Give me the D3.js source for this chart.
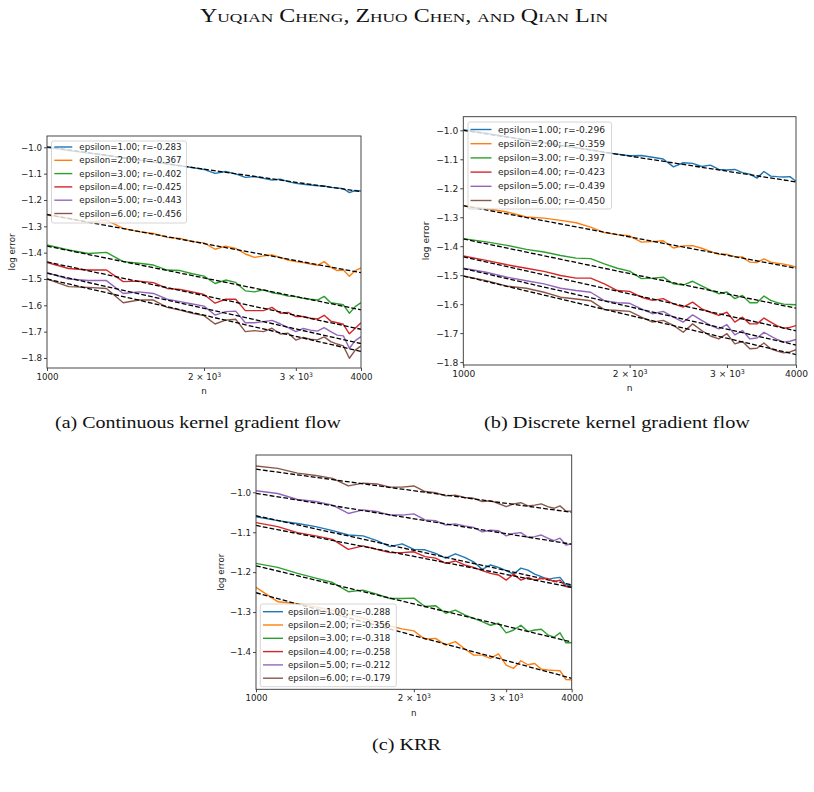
<!DOCTYPE html>
<html>
<head>
<meta charset="utf-8">
<script src="https://cdn.jsdelivr.net/npm/d3@7"></script>
<style>
  html, body { margin: 0; padding: 0; background: #fff; }
  svg { display: block; }
</style>
</head>
<body>
<svg id="fig" width="814" height="792"></svg>
<script>
// ---------------- DATA ----------------
const nValues = [1000,1100,1200,1300,1400,1500,1600,1700,1800,1900,2000,2100,2200,2300,2400,2500,2600,2700,2800,2900,3000,3100,3200,3300,3400,3500,3600,3700,3800,3900,4000];

const epsilonLabels = ["1.00","2.00","3.00","4.00","5.00","6.00"];
const seriesColors = ["#1f77b4","#ff7f0e","#2ca02c","#d62728","#9467bd","#8c564b"];

// (a) Continuous kernel gradient flow
const rA = ["-0.283","-0.367","-0.402","-0.425","-0.443","-0.456"];
const a1 = [-1.000,-1.012,-1.022,-1.030,-1.040,-1.048,-1.056,-1.062,-1.070,-1.077,-1.084,-1.099,-1.092,-1.101,-1.114,-1.111,-1.118,-1.124,-1.121,-1.130,-1.137,-1.140,-1.143,-1.146,-1.147,-1.152,-1.154,-1.157,-1.172,-1.164,-1.166];
const a2 = [-1.257,-1.270,-1.285,-1.276,-1.308,-1.320,-1.327,-1.342,-1.346,-1.358,-1.363,-1.387,-1.375,-1.384,-1.405,-1.418,-1.412,-1.409,-1.418,-1.428,-1.434,-1.438,-1.443,-1.448,-1.434,-1.455,-1.468,-1.466,-1.490,-1.468,-1.458];
const a3 = [-1.371,-1.390,-1.403,-1.399,-1.434,-1.440,-1.447,-1.466,-1.468,-1.480,-1.489,-1.517,-1.504,-1.513,-1.545,-1.549,-1.541,-1.552,-1.557,-1.565,-1.567,-1.573,-1.577,-1.580,-1.566,-1.590,-1.594,-1.598,-1.630,-1.605,-1.590];
const a4 = [-1.437,-1.460,-1.466,-1.466,-1.510,-1.508,-1.514,-1.536,-1.540,-1.549,-1.559,-1.592,-1.577,-1.577,-1.620,-1.620,-1.620,-1.608,-1.630,-1.627,-1.643,-1.642,-1.649,-1.652,-1.638,-1.660,-1.666,-1.672,-1.708,-1.687,-1.666];
const a5 = [-1.476,-1.500,-1.506,-1.506,-1.555,-1.549,-1.555,-1.577,-1.586,-1.595,-1.603,-1.637,-1.624,-1.622,-1.666,-1.666,-1.662,-1.657,-1.670,-1.685,-1.700,-1.688,-1.694,-1.698,-1.685,-1.700,-1.713,-1.716,-1.763,-1.734,-1.719];
const a6 = [-1.500,-1.529,-1.532,-1.536,-1.590,-1.580,-1.580,-1.608,-1.618,-1.630,-1.639,-1.671,-1.656,-1.653,-1.700,-1.696,-1.700,-1.687,-1.709,-1.706,-1.732,-1.722,-1.729,-1.731,-1.720,-1.738,-1.747,-1.754,-1.801,-1.770,-1.754];
const fitStartA = [-0.998,-1.255,-1.375,-1.435,-1.478,-1.500];
const fitEndA   = [-1.168,-1.476,-1.617,-1.691,-1.745,-1.775];

// (b) Discrete kernel gradient flow
const rB = ["-0.296","-0.359","-0.397","-0.423","-0.439","-0.450"];
const b1 = [-0.998,-1.010,-1.022,-1.034,-1.043,-1.052,-1.060,-1.067,-1.076,-1.082,-1.088,-1.087,-1.093,-1.099,-1.126,-1.112,-1.114,-1.125,-1.120,-1.135,-1.137,-1.135,-1.146,-1.151,-1.165,-1.142,-1.158,-1.160,-1.161,-1.160,-1.176];
const b2 = [-1.261,-1.270,-1.282,-1.299,-1.303,-1.311,-1.319,-1.334,-1.353,-1.360,-1.364,-1.386,-1.384,-1.381,-1.406,-1.399,-1.398,-1.407,-1.418,-1.428,-1.428,-1.436,-1.437,-1.455,-1.456,-1.444,-1.455,-1.459,-1.462,-1.466,-1.472];
const b3 = [-1.374,-1.385,-1.397,-1.411,-1.420,-1.432,-1.441,-1.443,-1.461,-1.476,-1.486,-1.512,-1.510,-1.507,-1.530,-1.534,-1.521,-1.537,-1.552,-1.564,-1.558,-1.581,-1.570,-1.595,-1.595,-1.572,-1.587,-1.595,-1.600,-1.601,-1.602];
const b4 = [-1.434,-1.449,-1.464,-1.476,-1.487,-1.501,-1.510,-1.510,-1.530,-1.553,-1.556,-1.576,-1.587,-1.581,-1.599,-1.610,-1.593,-1.616,-1.628,-1.639,-1.628,-1.662,-1.645,-1.668,-1.668,-1.648,-1.662,-1.675,-1.683,-1.680,-1.674];
const b5 = [-1.476,-1.490,-1.507,-1.519,-1.530,-1.545,-1.553,-1.559,-1.588,-1.595,-1.597,-1.616,-1.633,-1.625,-1.645,-1.662,-1.637,-1.656,-1.673,-1.685,-1.671,-1.706,-1.691,-1.720,-1.717,-1.697,-1.710,-1.722,-1.731,-1.728,-1.722];
const b6 = [-1.503,-1.519,-1.538,-1.545,-1.559,-1.576,-1.582,-1.588,-1.619,-1.622,-1.625,-1.645,-1.662,-1.656,-1.673,-1.697,-1.668,-1.691,-1.710,-1.720,-1.702,-1.737,-1.729,-1.754,-1.752,-1.734,-1.754,-1.762,-1.768,-1.765,-1.757];
const fitStartB = [-1.000,-1.260,-1.375,-1.437,-1.477,-1.503];
const fitEndB   = [-1.178,-1.476,-1.614,-1.692,-1.741,-1.774];

// (c) KRR
const rC = ["-0.288","-0.356","-0.318","-0.258","-0.212","-0.179"];
const c1 = [-1.061,-1.071,-1.078,-1.086,-1.096,-1.107,-1.109,-1.121,-1.136,-1.129,-1.143,-1.144,-1.153,-1.165,-1.154,-1.163,-1.174,-1.193,-1.182,-1.188,-1.196,-1.205,-1.190,-1.195,-1.205,-1.211,-1.218,-1.215,-1.213,-1.232,-1.235];
const c2 = [-1.238,-1.274,-1.279,-1.287,-1.296,-1.305,-1.315,-1.326,-1.335,-1.342,-1.347,-1.368,-1.366,-1.383,-1.374,-1.392,-1.408,-1.408,-1.416,-1.405,-1.433,-1.441,-1.422,-1.432,-1.429,-1.443,-1.445,-1.446,-1.447,-1.469,-1.470];
const c3 = [-1.178,-1.188,-1.203,-1.215,-1.226,-1.249,-1.245,-1.255,-1.266,-1.266,-1.265,-1.286,-1.284,-1.303,-1.295,-1.307,-1.316,-1.324,-1.333,-1.328,-1.352,-1.345,-1.333,-1.349,-1.345,-1.343,-1.357,-1.363,-1.352,-1.377,-1.377];
const c4 = [-1.076,-1.086,-1.101,-1.109,-1.118,-1.143,-1.134,-1.143,-1.151,-1.151,-1.149,-1.161,-1.165,-1.178,-1.172,-1.182,-1.188,-1.196,-1.203,-1.207,-1.220,-1.205,-1.220,-1.213,-1.220,-1.216,-1.216,-1.224,-1.220,-1.236,-1.238];
const c5 = [-0.996,-1.003,-1.018,-1.023,-1.032,-1.053,-1.044,-1.048,-1.057,-1.057,-1.054,-1.069,-1.071,-1.082,-1.079,-1.084,-1.088,-1.099,-1.095,-1.096,-1.109,-1.103,-1.101,-1.113,-1.111,-1.107,-1.115,-1.121,-1.115,-1.132,-1.129];
const c6 = [-0.934,-0.940,-0.952,-0.958,-0.965,-0.984,-0.977,-0.979,-0.987,-0.987,-0.984,-0.998,-1.001,-1.009,-1.007,-1.013,-1.015,-1.023,-1.021,-1.028,-1.036,-1.029,-1.026,-1.034,-1.032,-1.029,-1.036,-1.040,-1.034,-1.047,-1.047];
const fitStartC = [-1.0587,-1.2516,-1.184,-1.083,-1.0025,-0.942];
const fitEndC   = [-1.232,-1.466,-1.375,-1.238,-1.130,-1.050];

// ticks
const xTickValues = [1000, 2000, 3000, 4000];
const xTickLabels = [["1000",null],["2 × 10","3"],["3 × 10","3"],["4000",null]];
const yTicksAB = [-1.0,-1.1,-1.2,-1.3,-1.4,-1.5,-1.6,-1.7,-1.8];
const yTicksC = [-1.0,-1.1,-1.2,-1.3,-1.4];

const titleText = "Yuqian Cheng, Zhuo Chen, and Qian Lin";
const captions = ["(a) Continuous kernel gradient flow", "(b) Discrete kernel gradient flow", "(c) KRR"];

// ---------------- DRAWING ----------------
const svg = d3.select("#fig");
const SANS = "'DejaVu Sans', sans-serif";
const SERIF = "'Liberation Serif', 'DejaVu Serif', serif";

svg.append("text")
  .attr("x", 404).attr("y", 22)
  .attr("text-anchor", "middle")
  .attr("font-family", SERIF)
  .attr("font-size", 18)
  .attr("font-variant", "small-caps")
  .attr("textLength", 408)
  .attr("lengthAdjust", "spacingAndGlyphs")
  .attr("fill", "#111")
  .text(titleText);

function fmtY(v) { return "\u2212" + Math.abs(v).toFixed(1); }

function drawPanel(cfg) {
  const g = svg.append("g");
  const x = d3.scaleLog().domain([1000, 4000]).range([cfg.left, cfg.right]);
  const y = d3.scaleLinear().domain(cfg.yDomain).range([cfg.bottom, cfg.top]);
  const fs = cfg.fontSize;

  const clipId = "clip" + cfg.id;
  svg.append("defs").append("clipPath").attr("id", clipId)
    .append("rect").attr("x", cfg.left).attr("y", cfg.top)
    .attr("width", cfg.right - cfg.left).attr("height", cfg.bottom - cfg.top);

  const plot = g.append("g").attr("clip-path", `url(#${clipId})`);
  const line = d3.line().x((d, i) => x(nValues[i])).y(d => y(d));

  cfg.series.forEach((s, k) => {
    plot.append("path").datum(s)
      .attr("d", line)
      .attr("fill", "none")
      .attr("stroke", seriesColors[k])
      .attr("stroke-width", 1.4)
      .attr("stroke-linejoin", "round");
    plot.append("line")
      .attr("x1", x(1000)).attr("y1", y(cfg.fitStart[k]))
      .attr("x2", x(4000)).attr("y2", y(cfg.fitEnd[k]))
      .attr("stroke", "#000")
      .attr("stroke-width", 1.3)
      .attr("stroke-dasharray", "4.8,2.1");
  });

  // frame
  g.append("rect")
    .attr("x", cfg.left).attr("y", cfg.top)
    .attr("width", cfg.right - cfg.left).attr("height", cfg.bottom - cfg.top)
    .attr("fill", "none").attr("stroke", "#333").attr("stroke-width", 0.9);

  // y axis
  const yAxis = d3.axisLeft(y).tickValues(cfg.yTicks).tickSize(3).tickPadding(2).tickFormat(fmtY);
  const ya = g.append("g").attr("transform", `translate(${cfg.left},0)`).call(yAxis);
  ya.select(".domain").remove();
  ya.selectAll("line").attr("stroke", "#333").attr("stroke-width", 0.9);
  ya.selectAll("text").attr("font-family", SANS).attr("font-size", fs).attr("fill", "#222");

  // x axis
  const xAxis = d3.axisBottom(x).tickValues(xTickValues).tickSize(3).tickPadding(3).tickFormat(() => "");
  const xa = g.append("g").attr("transform", `translate(0,${cfg.bottom})`).call(xAxis);
  xa.select(".domain").remove();
  xa.selectAll("line").attr("stroke", "#333").attr("stroke-width", 0.9);
  xa.selectAll(".tick text").each(function(d, i) {
    const t = d3.select(this).attr("font-family", SANS).attr("font-size", fs).attr("fill", "#222");
    const lab = xTickLabels[i];
    t.append("tspan").text(lab[0]);
    if (lab[1]) {
      t.append("tspan").attr("dy", -fs * 0.4).attr("font-size", fs * 0.7).text(lab[1]);
    }
  });

  // axis labels
  g.append("text")
    .attr("x", (cfg.left + cfg.right) / 2).attr("y", cfg.bottom + cfg.nLabelOffset)
    .attr("text-anchor", "middle").attr("font-family", SANS).attr("font-size", fs).attr("fill", "#222")
    .text("n");
  g.append("text")
    .attr("transform", `translate(${cfg.yLabelX},${(cfg.top + cfg.bottom) / 2}) rotate(-90)`)
    .attr("text-anchor", "middle").attr("font-family", SANS).attr("font-size", fs).attr("fill", "#222")
    .text("log error");

  // legend
  const L = cfg.legend;
  const lg = g.append("g");
  lg.append("rect")
    .attr("x", L.x).attr("y", L.y).attr("width", L.w).attr("height", L.h)
    .attr("rx", 2).attr("ry", 2)
    .attr("fill", "#fff").attr("fill-opacity", 0.8)
    .attr("stroke", "#ccc").attr("stroke-width", 0.8);
  epsilonLabels.forEach((e, k) => {
    const ry = L.row0 + k * L.dy;
    lg.append("line")
      .attr("x1", L.hx0).attr("x2", L.hx1).attr("y1", ry).attr("y2", ry)
      .attr("stroke", seriesColors[k]).attr("stroke-width", 1.4);
    lg.append("text")
      .attr("x", L.tx).attr("y", ry).attr("dy", "0.35em")
      .attr("font-family", SANS).attr("font-size", fs).attr("fill", "#222")
      .text(`epsilon=${e}; r=${cfg.r[k]}`);
  });

  // caption
  svg.append("text")
    .attr("x", cfg.caption.x).attr("y", cfg.caption.y)
    .attr("font-family", SERIF).attr("font-size", 17).attr("fill", "#111")
    .attr("textLength", cfg.caption.w).attr("lengthAdjust", "spacingAndGlyphs")
    .text(cfg.caption.text);
}

drawPanel({
  id: "a", left: 47, right: 361, top: 136, bottom: 368,
  yDomain: [-1.838, -0.957], yTicks: yTicksAB, fontSize: 8.7,
  series: [a1,a2,a3,a4,a5,a6], fitStart: fitStartA, fitEnd: fitEndA, r: rA,
  nLabelOffset: 26, yLabelX: 15,
  legend: { x: 51.5, y: 141, w: 135, h: 82, row0: 147, dy: 13.3, hx0: 54.3, hx1: 72.3, tx: 79.3 },
  caption: { x: 55, y: 428, w: 286, text: captions[0] }
});

drawPanel({
  id: "b", left: 463.3, right: 796, top: 116.7, bottom: 365,
  yDomain: [-1.81, -0.953], yTicks: yTicksAB, fontSize: 9.1,
  series: [b1,b2,b3,b4,b5,b6], fitStart: fitStartB, fitEnd: fitEndB, r: rB,
  nLabelOffset: 26, yLabelX: 428.5,
  legend: { x: 468, y: 122, w: 143.5, h: 87, row0: 129.5, dy: 14.2, hx0: 470.5, hx1: 491.5, tx: 498 },
  caption: { x: 484, y: 428, w: 266, text: captions[1] }
});

drawPanel({
  id: "c", left: 256, right: 571.7, top: 455, bottom: 689.3,
  yDomain: [-1.4935, -0.9065], yTicks: yTicksC, fontSize: 8.7,
  series: [c1,c2,c3,c4,c5,c6], fitStart: fitStartC, fitEnd: fitEndC, r: rC,
  nLabelOffset: 27, yLabelX: 224,
  legend: { x: 260.3, y: 604, w: 136, h: 82.7, row0: 611.7, dy: 13.3, hx0: 263, hx1: 283, tx: 288 },
  caption: { x: 372, y: 750, w: 69, text: captions[2] }
});
</script>
</body>
</html>
